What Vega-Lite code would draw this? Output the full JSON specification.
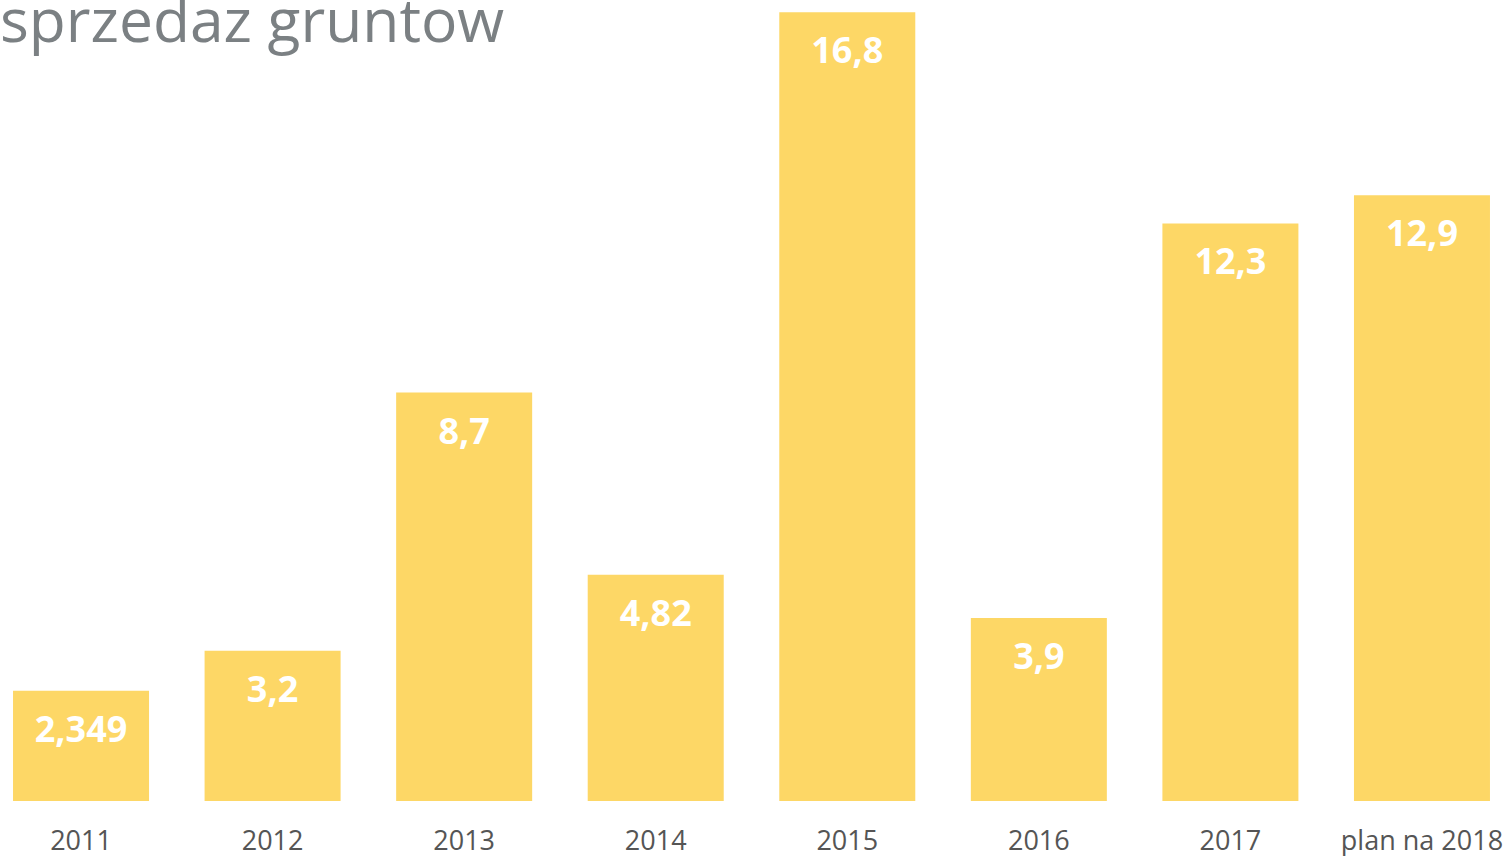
{
  "$schema": "https://vega.github.io/schema/vega-lite/v6.json",
  "width": 1503,
  "height": 801,
  "autosize": {"type": "none"},
  "padding": {"left": 0, "top": 0, "right": 6, "bottom": 55},
  "background": "white",
  "title": {
    "text": "sprzedaz gruntow",
    "anchor": "start",
    "frame": "group",
    "orient": "top",
    "offset": -102,
    "baseline": "alphabetic",
    "font": "Open Sans",
    "fontSize": 60.5,
    "fontWeight": "normal",
    "color": "#7b8083"
  },
  "data": {
    "values": [
      {"year": "2011", "value": 2.349, "label": "2,349"},
      {"year": "2012", "value": 3.2, "label": "3,2"},
      {"year": "2013", "value": 8.7, "label": "8,7"},
      {"year": "2014", "value": 4.82, "label": "4,82"},
      {"year": "2015", "value": 16.8, "label": "16,8"},
      {"year": "2016", "value": 3.9, "label": "3,9"},
      {"year": "2017", "value": 12.3, "label": "12,3"},
      {"year": "plan na 2018", "value": 12.9, "label": "12,9"}
    ]
  },
  "encoding": {
    "x": {
      "field": "year",
      "type": "nominal",
      "sort": null,
      "scale": {"paddingInner": 0.29, "paddingOuter": 0.068},
      "axis": {
        "title": null,
        "domain": false,
        "ticks": false,
        "labelAngle": 0,
        "labelFont": "Open Sans",
        "labelFontSize": 27,
        "labelColor": "#555555",
        "labelPadding": 27,
        "labelBaseline": "top"
      }
    },
    "y": {
      "field": "value",
      "type": "quantitative",
      "scale": {"domain": [0, 17.06], "nice": false, "zero": true},
      "axis": null
    }
  },
  "layer": [
    {
      "mark": {"type": "bar", "color": "#FDD766"}
    },
    {
      "mark": {
        "type": "text",
        "color": "white",
        "font": "Open Sans",
        "fontWeight": "bold",
        "fontSize": 36,
        "baseline": "middle",
        "align": "center",
        "dy": 40
      },
      "encoding": {"text": {"field": "label"}}
    }
  ],
  "config": {"view": {"stroke": null}}
}
